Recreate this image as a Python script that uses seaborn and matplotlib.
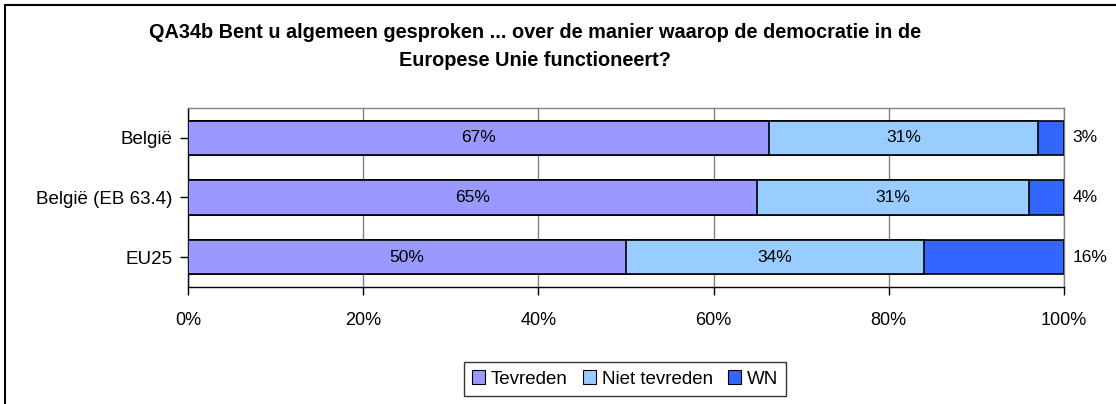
import matplotlib
matplotlib.use('Agg')
import matplotlib.pyplot as plt
import seaborn as sns
import pandas as pd
from matplotlib.patches import Rectangle, Patch

# data
categories = ['België', 'België (EB 63.4)', 'EU25']
tevreden = [67, 65, 50]
niet_tevreden = [31, 31, 34]
wn = [3, 4, 16]
series_names = ['Tevreden', 'Niet tevreden', 'WN']
colors = ['#9999FF', '#99CCFF', '#3366FF']

sns.set_style('white')
plt.rcParams['font.family'] = ['Liberation Sans', 'DejaVu Sans']
plt.rcParams['text.color'] = 'black'
plt.rcParams['xtick.color'] = 'black'
plt.rcParams['ytick.color'] = 'black'
plt.rcParams['axes.labelcolor'] = 'black'

df = pd.DataFrame({'cat': categories, 't': tevreden, 'n': niet_tevreden, 'w': wn})
# Excel normalises each row to 100 %
total = df['t'] + df['n'] + df['w']
df['p_t'] = df['t'] / total * 100
df['p_n'] = df['n'] / total * 100
df['p_w'] = df['w'] / total * 100
df['c1'] = df['p_t']
df['c2'] = df['p_t'] + df['p_n']
df['c3'] = df['c2'] + df['p_w']

fig = plt.figure(figsize=(11.16, 4.04), dpi=100)
ax = fig.add_axes([188 / 1116, 1 - 287 / 404, 876 / 1116, 179 / 404])

# draw back to front so the stacked segments overlap cleanly
for col, color in zip(['c3', 'c2', 'c1'], colors[::-1]):
    sns.barplot(data=df, x=col, y='cat', orient='h', color=color, width=0.57,
                edgecolor='black', linewidth=1.2, saturation=1, ax=ax, zorder=3)

for i, row in df.iterrows():
    ax.text(row['c1'] / 2, i, f"{row['t']}%", ha='center', va='center', fontsize=12.5, zorder=4)
    ax.text(row['c1'] + row['p_n'] / 2, i, f"{row['n']}%", ha='center', va='center', fontsize=12.5, zorder=4)
    ax.text(101, i, f"{row['w']}%", ha='left', va='center', fontsize=12.5, clip_on=False)

ax.set_xlim(0, 100)
ax.set_ylim(2.5, -0.5)
ax.set_xticks([0, 20, 40, 60, 80, 100])
ax.set_xticklabels([f'{v}%' for v in [0, 20, 40, 60, 80, 100]])
ax.set_xlabel('')
ax.set_ylabel('')
ax.xaxis.grid(True, color='#808080', linewidth=1, zorder=0)
ax.set_axisbelow(True)
ax.tick_params(axis='x', direction='out', length=6, width=1, color='black', pad=12, labelsize=13)
ax.tick_params(axis='y', direction='out', length=6, width=1, color='black', pad=5, labelsize=13.5)
ax.tick_params(left=True, bottom=True)
for s in ['top', 'right']:
    ax.spines[s].set_color('#808080')
for s in ['left', 'bottom']:
    ax.spines[s].set_color('black')
for s in ax.spines.values():
    s.set_linewidth(1)

fig.text(0.479, 1 - 46 / 404,
         'QA34b Bent u algemeen gesproken ... over de manier waarop de democratie in de\nEuropese Unie functioneert?',
         ha='center', va='center', fontsize=14.3, fontweight='bold', linespacing=1.6)

handles = [Patch(facecolor=c, edgecolor='black', linewidth=0.8) for c in colors]
leg = fig.legend(handles, series_names, loc='center', bbox_to_anchor=(625 / 1116, 1 - 379 / 404),
                 ncol=3, fontsize=13.5, frameon=True, fancybox=False, edgecolor='black',
                 handlelength=0.7, handleheight=0.7, handletextpad=0.3, columnspacing=0.8,
                 borderpad=0.45)
leg.get_frame().set_linewidth(1)

# outer chart border (only left/top visible in the reference)
fig.patches.append(Rectangle((5 / 1116, -0.1), 1.2, 1 - 5 / 404 + 0.1, transform=fig.transFigure,
                             fill=False, edgecolor='black', linewidth=1.5))

fig.savefig('out.png', dpi=100)
